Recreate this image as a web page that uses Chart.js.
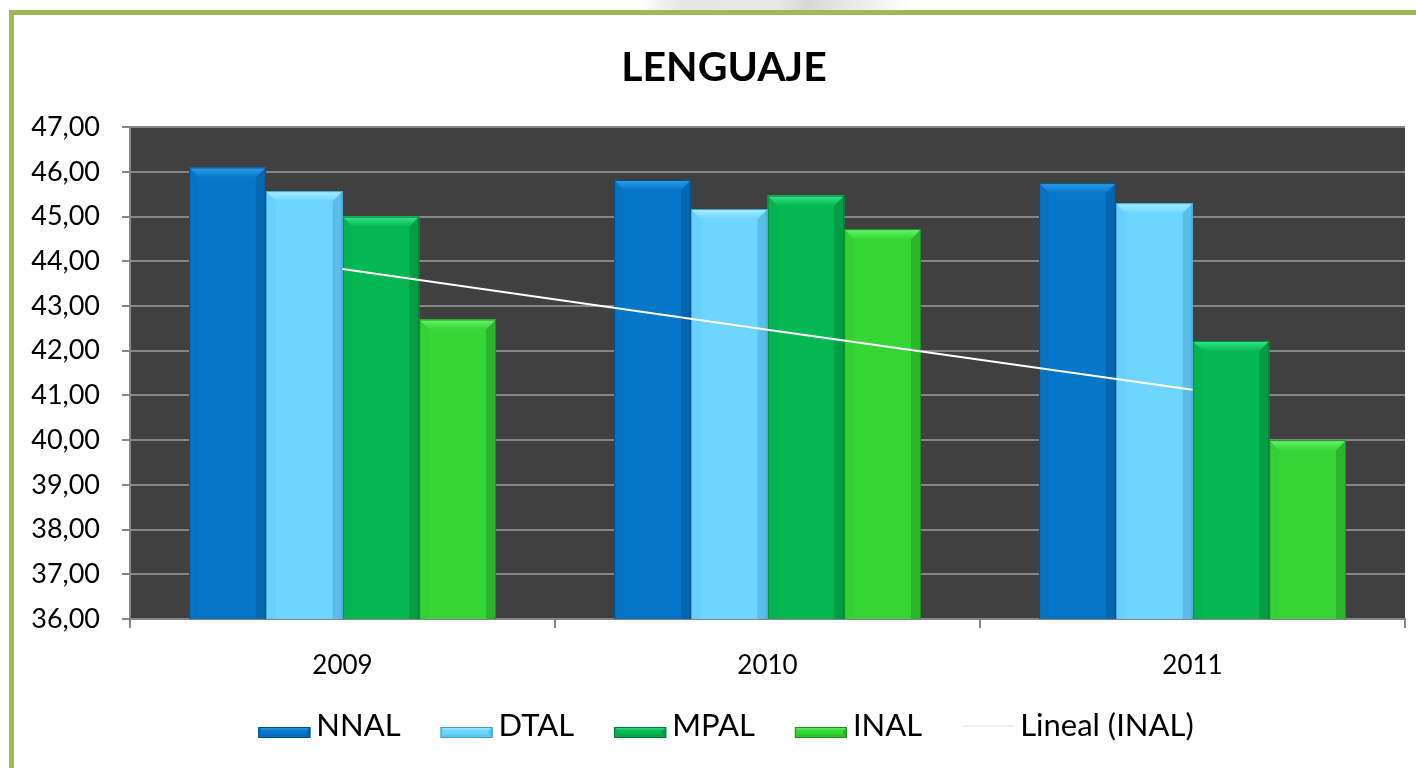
<!DOCTYPE html>
<html>
<head>
<meta charset="utf-8">
<script src="https://cdn.jsdelivr.net/npm/chart.js@4.4.0/dist/chart.umd.min.js"></script>
<style>
    html, body { margin: 0; padding: 0; background: #fff; overflow: hidden; width: 1416px; height: 768px; }
    #marca { position: absolute; left: 640px; top: 0; width: 270px; height: 10px;
        background: linear-gradient(to right, rgba(230,230,230,0), #e6e6e6 15%, #e8e8e8 50%, #d9d9d9 62%, rgba(245,245,245,0)); }
    #moldura { position: absolute; left: 9px; top: 10px; width: 1500px; height: 900px; border: 5px solid #9bbb59; }
    #grafico { position: absolute; left: 0; top: 0; }
</style>
</head>
<body>
<div id="marca"></div>
<div id="moldura"></div>
<canvas id="grafico" width="1416" height="768"></canvas>
<script>
const anos = ['2009', '2010', '2011'];
const nnal = [46.10, 45.82, 45.75];
const dtal = [45.57, 45.17, 45.30];
const mpal = [45.00, 45.47, 42.22];
const inal = [42.70, 44.72, 40.00];
const linealInal = [43.83, 42.47, 41.13];
const titulo = 'LENGUAJE';

const paleta = [
    { base: '#0677c8', claro: '#2e9deb', lado: '#0566b0', baixo: '#056bb8', esq: '#0672c2', borda: '#03508c' },
    { base: '#6dd5fe', claro: '#a9f0ff', lado: '#5cbdea', baixo: '#62c6f2', esq: '#68d0fa', borda: '#3f9fcf' },
    { base: '#06b853', claro: '#35e98a', lado: '#049c45', baixo: '#05a64a', esq: '#05b251', borda: '#037c36' },
    { base: '#37d637', claro: '#68f56b', lado: '#2bb52c', baixo: '#2ec12f', esq: '#34d035', borda: '#1f8f20' }
];

Chart.defaults.font.family = 'Lato';
Chart.defaults.color = '#000';

function poligono(ctx, pontos, cor) {
    ctx.beginPath();
    ctx.moveTo(pontos[0][0], pontos[0][1]);
    for (let i = 1; i < pontos.length; i++)
        ctx.lineTo(pontos[i][0], pontos[i][1]);
    ctx.closePath();
    ctx.fillStyle = cor;
    ctx.fill();
}

function desenharBisel(ctx, l, t, r, b, cor, bis) {
    ctx.save();
    ctx.fillStyle = cor.base;
    ctx.fillRect(l, t, r - l, b - t);
    poligono(ctx, [[l, t], [l + bis, t + bis], [l + bis, b - bis], [l, b]], cor.esq);
    poligono(ctx, [[r, t], [r, b], [r - bis, b - bis], [r - bis, t + bis]], cor.lado);
    poligono(ctx, [[l, b], [r, b], [r - bis, b - bis], [l + bis, b - bis]], cor.baixo);
    const grad = ctx.createLinearGradient(0, t, 0, t + bis);
    grad.addColorStop(0, cor.claro);
    grad.addColorStop(1, cor.base);
    poligono(ctx, [[l, t], [r, t], [r - bis, t + bis], [l + bis, t + bis]], grad);
    ctx.strokeStyle = cor.borda;
    ctx.lineWidth = 1;
    ctx.strokeRect(l + 0.5, t + 0.5, r - l - 1, b - t - 1);
    ctx.restore();
}

const fundoPlugin = {
    id: 'fundoArea',
    beforeDraw(chart) {
        const a = chart.chartArea;
        chart.ctx.save();
        chart.ctx.fillStyle = '#404040';
        chart.ctx.fillRect(a.left, a.top, a.right - a.left, a.bottom - a.top);
        chart.ctx.restore();
    }
};

const biselPlugin = {
    id: 'bisel',
    afterDatasetDraw(chart, args) {
        const meta = args.meta;
        if (meta.type !== 'bar') return;
        const cor = paleta[args.index];
        const ctx = chart.ctx;
        const a = chart.chartArea;
        ctx.save();
        ctx.beginPath();
        ctx.rect(a.left, a.top, a.right - a.left, a.bottom - a.top);
        ctx.clip();
        meta.data.forEach(barra => {
            const p = barra.getProps(['x', 'y', 'base', 'width'], true);
            desenharBisel(ctx, p.x - p.width / 2, p.y, p.x + p.width / 2, p.base, cor, 10);
        });
        ctx.restore();
    }
};

// titulo e legenda centrados no objeto do grafico (que passa da borda direita)
const textosPlugin = {
    id: 'textosExcel',
    afterDraw(chart) {
        const ctx = chart.ctx;
        ctx.save();
        ctx.fillStyle = '#000';
        ctx.font = 'bold 41px Lato';
        ctx.textAlign = 'center';
        ctx.textBaseline = 'middle';
        ctx.fillText(titulo, 724, 68);

        ctx.textAlign = 'left';
        ctx.font = '31px Lato';
        ctx.textBaseline = 'alphabetic';
        const itens = chart.data.datasets.map((ds, i) => ({ texto: ds.label, i, tipo: ds.type || 'bar' }));
        const larguras = itens.map(it => 52 + 6 + ctx.measureText(it.texto).width);
        const total = larguras.reduce((s, w) => s + w, 0) + 40 * (itens.length - 1);
        let x = 726 - total / 2;
        itens.forEach((it, k) => {
            if (it.tipo === 'bar') {
                desenharBisel(ctx, x, 727, x + 52, 738, paleta[it.i], 4);
            } else {
                ctx.strokeStyle = '#f0f0f0';
                ctx.lineWidth = 2;
                ctx.beginPath();
                ctx.moveTo(x, 726);
                ctx.lineTo(x + 52, 726);
                ctx.stroke();
            }
            ctx.fillStyle = '#000';
            ctx.fillText(it.texto, x + 58, 736);
            x += larguras[k] + 40;
        });
        ctx.restore();
    }
};

const ctx = document.getElementById('grafico').getContext('2d');
new Chart(ctx, {
    type: 'bar',
    data: {
        labels: anos,
        datasets: [
            { label: 'NNAL', data: nnal, backgroundColor: paleta[0].base },
            { label: 'DTAL', data: dtal, backgroundColor: paleta[1].base },
            { label: 'MPAL', data: mpal, backgroundColor: paleta[2].base },
            { label: 'INAL', data: inal, backgroundColor: paleta[3].base },
            {
                type: 'line',
                label: 'Lineal (INAL)',
                data: linealInal,
                borderColor: '#ffffff',
                borderWidth: 2,
                pointRadius: 0,
                tension: 0,
                order: -1
            }
        ]
    },
    options: {
        responsive: false,
        animation: false,
        devicePixelRatio: 1,
        layout: {
            padding: { left: 0, right: 11, top: 0, bottom: 0 }
        },
        datasets: {
            bar: {
                categoryPercentage: 0.722,
                barPercentage: 1.0,
                borderWidth: 0
            }
        },
        plugins: {
            legend: { display: false },
            tooltip: { enabled: false },
            title: {
                display: true,
                text: titulo,
                color: 'rgba(0,0,0,0)',
                font: { size: 41, weight: 'bold', family: 'Lato' },
                padding: { top: 43, bottom: 35 }
            }
        },
        scales: {
            x: {
                afterFit: escala => { escala.height = 149; },
                grid: {
                    offset: true,
                    drawOnChartArea: false,
                    drawTicks: true,
                    tickLength: 9,
                    color: '#868686',
                    lineWidth: 2
                },
                border: { display: true, color: '#868686', width: 2 },
                ticks: {
                    padding: 22,
                    font: { size: 26 },
                    color: '#000'
                }
            },
            y: {
                min: 36,
                max: 47,
                afterFit: escala => { escala.width = 130; },
                grid: {
                    color: '#858585',
                    lineWidth: 2,
                    tickLength: 8
                },
                border: { display: true, color: '#868686', width: 2 },
                ticks: {
                    stepSize: 1,
                    padding: 22,
                    font: { size: 27 },
                    color: '#000',
                    callback: valor => Number(valor).toFixed(2).replace('.', ',')
                }
            }
        }
    },
    plugins: [fundoPlugin, biselPlugin, textosPlugin]
});
</script>
</body>
</html>
